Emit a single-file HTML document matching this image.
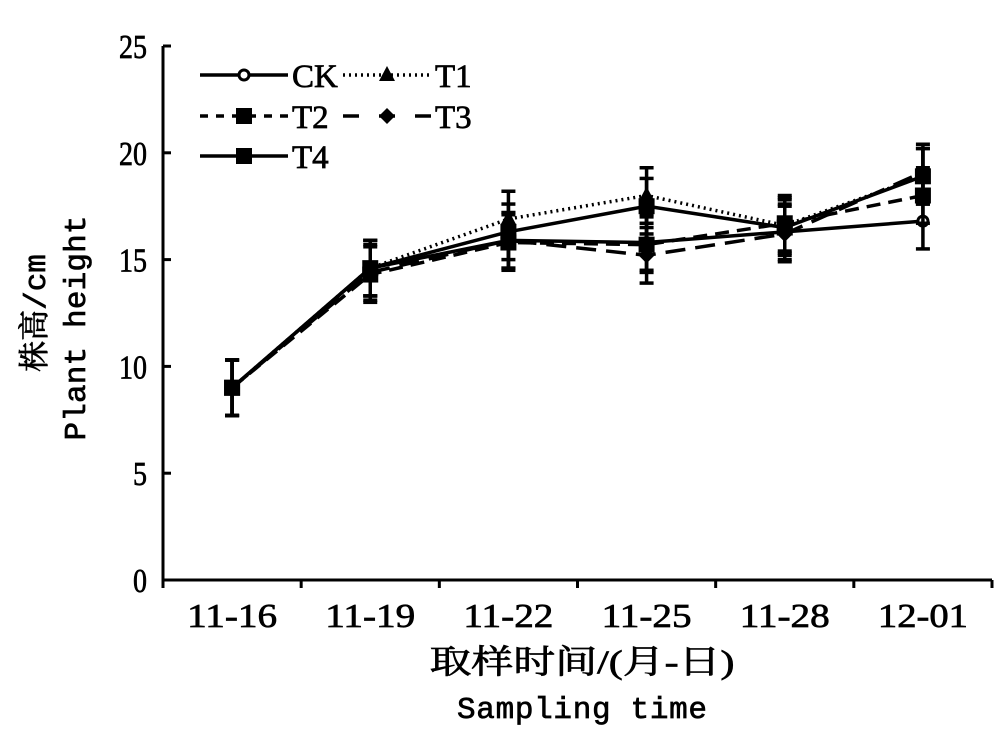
<!DOCTYPE html>
<html><head><meta charset="utf-8">
<style>
html,body{margin:0;padding:0;background:#fff;}
svg{display:block;font-family:"Liberation Serif","Noto Serif CJK SC",serif;}
text{stroke:#000;stroke-width:0.7px;}
</style></head>
<body>
<svg id="chart" width="1004" height="731" viewBox="0 0 1004 731">
<g id="axes"></g>
<g id="series"></g>
<g id="legend"></g>
<text x="582" y="673" font-size="33" text-anchor="middle" textLength="305" lengthAdjust="spacingAndGlyphs"><tspan font-family="'Noto Serif CJK SC',serif">取样时间</tspan><tspan font-family="'Liberation Serif',serif">/(</tspan><tspan font-family="'Noto Serif CJK SC',serif">月</tspan><tspan font-family="'Liberation Serif',serif">-</tspan><tspan font-family="'Noto Serif CJK SC',serif">日</tspan><tspan font-family="'Liberation Serif',serif">)</tspan></text>
<text x="582" y="718" font-size="31" text-anchor="middle" textLength="250" font-family="'Liberation Mono',monospace">Sampling time</text>
<text transform="translate(45,313) rotate(-90)" font-size="31" text-anchor="middle"><tspan font-family="'Noto Serif CJK SC',serif">株高</tspan><tspan font-family="'Liberation Mono',monospace">/cm</tspan></text>
<text transform="translate(85,328) rotate(-90)" font-size="31" text-anchor="middle" textLength="225" font-family="'Liberation Mono',monospace">Plant height</text>
</svg>
<script>
const categories=["11-16","11-19","11-22","11-25","11-28","12-01"];
const yTicks=[0,5,10,15,20,25];
const ckValues=[9.0,14.6,15.9,15.8,16.3,16.8];
const t1Values=[9.0,14.6,16.9,18.0,16.6,18.9];
const t2Values=[9.0,14.3,15.8,15.7,16.7,18.0];
const t3Values=[9.0,14.4,15.9,15.2,16.2,19.1];
const t4Values=[9.0,14.6,16.3,17.5,16.5,18.9];
const errValues=[1.3,1.3,1.3,1.3,1.3,1.3];
const seriesNames=["CK","T1","T2","T3","T4"];

const NS="http://www.w3.org/2000/svg";
const X0=163,X1=992,Y0=580,YT=46;
const bw=(X1-X0)/categories.length;
const xs=i=>X0+bw*(i+0.5);
const ys=v=>Y0-(v/25)*(Y0-YT);
function mk(tag,attrs,parent){const e=document.createElementNS(NS,tag);for(const k in attrs)e.setAttribute(k,attrs[k]);parent.appendChild(e);return e;}
const axes=document.getElementById('axes');
let a=mk('line',{x1:X0,y1:YT,x2:X0,y2:Y0,stroke:'#000','stroke-width':3},axes);

a=mk('line',{x1:X0,y1:Y0,x2:X1,y2:Y0,stroke:'#000','stroke-width':3},axes);

yTicks.forEach(v=>{
  mk('line',{x1:X0,y1:ys(v),x2:X0+8,y2:ys(v),stroke:'#000','stroke-width':3},axes);
  const s=String(v);
  const t=mk('text',{x:X0-16,y:ys(v)+12,'font-size':34,'text-anchor':'end',textLength:s.length*14,lengthAdjust:'spacingAndGlyphs'},axes);
  t.textContent=v;
  
  
});
for(let i=0;i<=categories.length;i++){
  mk('line',{x1:X0+bw*i,y1:Y0,x2:X0+bw*i,y2:Y0+8,stroke:'#000','stroke-width':3},axes);
}
categories.forEach((c,i)=>{
  const t=mk('text',{x:xs(i),y:Y0+47,'font-size':34,'text-anchor':'middle',textLength:90,lengthAdjust:'spacingAndGlyphs'},axes);
  t.textContent=c;
  
  
});
const styles=[
 {vals:ckValues,dash:'',marker:'circle'},
 {vals:t1Values,dash:'2,4',marker:'triangle'},
 {vals:t2Values,dash:'14,8',marker:'square'},
 {vals:t3Values,dash:'20,10',marker:'diamond'},
 {vals:t4Values,dash:'',marker:'square'}];
function marker(type,x,y,g){
  if(type==='circle')return mk('circle',{cx:x,cy:y,r:5,fill:'#fff',stroke:'#000','stroke-width':3},g);
  if(type==='triangle')return mk('polygon',{points:`${x},${y-9} ${x-8},${y+6} ${x+8},${y+6}`,fill:'#000'},g);
  if(type==='square')return mk('rect',{x:x-8,y:y-8,width:16,height:16,fill:'#000'},g);
  return mk('polygon',{points:`${x},${y-8} ${x+8},${y} ${x},${y+8} ${x-8},${y}`,fill:'#000'},g);
}
const sg=document.getElementById('series');
styles.forEach((s,k)=>{
  const g=mk('g',{},sg);
  
  
  s.vals.forEach((v,i)=>{
    const e=errValues[i],x=xs(i);
    mk('line',{x1:x,y1:ys(v-e),x2:x,y2:ys(v+e),stroke:'#000','stroke-width':3.5},g);
    mk('line',{x1:x-7,y1:ys(v-e),x2:x+7,y2:ys(v-e),stroke:'#000','stroke-width':3.5},g);
    mk('line',{x1:x-7,y1:ys(v+e),x2:x+7,y2:ys(v+e),stroke:'#000','stroke-width':3.5},g);
  });
  const pts=s.vals.map((v,i)=>xs(i)+','+ys(v)).join(' ');
  const pl=mk('polyline',{points:pts,fill:'none',stroke:'#000','stroke-width':3.5},g);
  if(s.dash)pl.setAttribute('stroke-dasharray',s.dash);
  s.vals.forEach((v,i)=>{
    const m=marker(s.marker,xs(i),ys(v),g);
    
    
  });
});
const lg=document.getElementById('legend');
const lpos=[[200,75],[343,75],[200,116],[343,116],[200,156]];
styles.forEach((s,k)=>{
  const [x,y]=lpos[k];
  const g=mk('g',{},lg);
  
  
  const w=88;
  const l=mk('line',{x1:x,y1:y,x2:x+w,y2:y,stroke:'#000','stroke-width':3.5},g);
  if(s.dash)l.setAttribute('stroke-dasharray',k===2?'8,8':(k===3?'16,20':s.dash));
  marker(s.marker,x+w/2,y,g);
  const t=mk('text',{x:x+w+4,y:y+12,'font-size':33},g);
  t.textContent=seriesNames[k];
});
</script>
</body></html>
